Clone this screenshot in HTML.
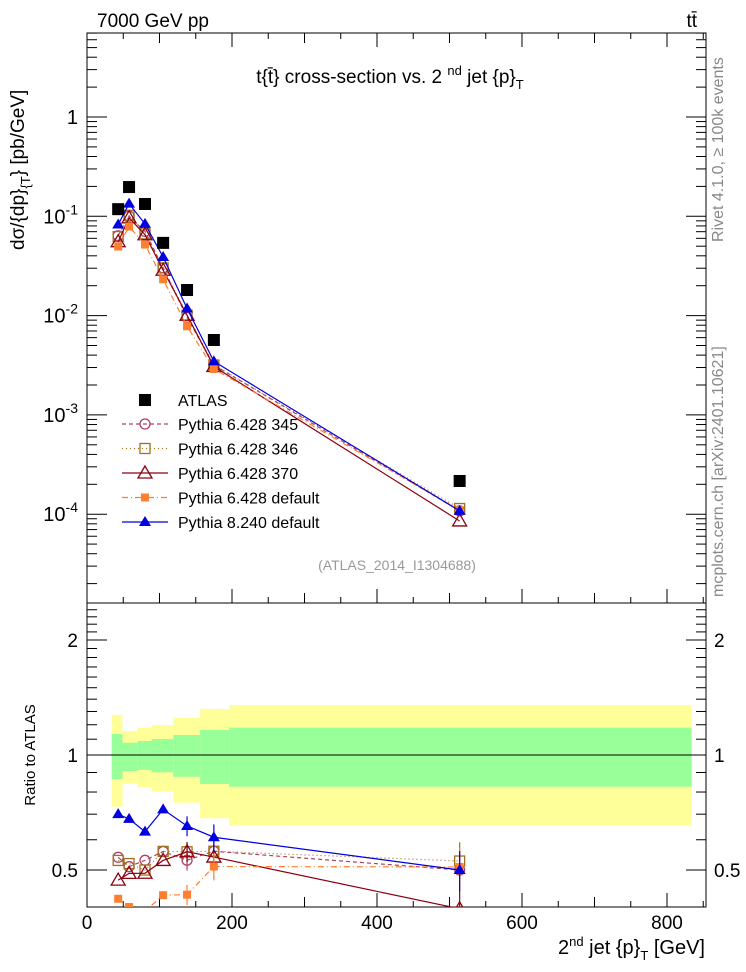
<!DOCTYPE html>
<html><head><meta charset="utf-8"><style>
body{margin:0;background:#fff;}
svg{display:block;font-family:"Liberation Sans",sans-serif;}
</style></head><body>
<svg id="c" width="746" height="972" viewBox="0 0 746 972">
<text x="97" y="27" font-size="19">7000 GeV pp</text>
<text x="697" y="27" font-size="19" text-anchor="end">tt̄</text>
<text x="390" y="83" font-size="19" text-anchor="middle">t{t̄} cross-section vs. 2 <tspan font-size="13" dy="-8">nd</tspan><tspan dy="8"> jet {p}</tspan><tspan font-size="13" dy="6">T</tspan></text>
<text transform="translate(24,250) rotate(-90)" font-size="19">dσ/{dp}<tspan font-size="13" dy="6">{T</tspan><tspan dy="-6">} [pb/GeV]</tspan></text>
<text transform="translate(723,242) rotate(-90)" font-size="16" fill="#888">Rivet 4.1.0, ≥ 100k events</text>
<text transform="translate(723,597) rotate(-90)" font-size="16" fill="#888">mcplots.cern.ch [arXiv:2401.10621]</text>
<text x="397" y="570" font-size="14" fill="#999" text-anchor="middle">(ATLAS_2014_I1304688)</text>
<text transform="translate(35,755) rotate(-90)" font-size="15" text-anchor="middle">Ratio to ATLAS</text>
<text x="705" y="954" font-size="20" text-anchor="end">2<tspan font-size="13" dy="-8">nd</tspan><tspan dy="8"> jet {p}</tspan><tspan font-size="13" dy="6">T</tspan><tspan dy="-6"> [GeV]</tspan></text>
<g id="g"></g>
</svg>
<script>
const xVals=[43,58,80,105,138,175,514];
const atlas=[0.118,0.197,0.133,0.054,0.0181,0.00568,0.000216];
const p345=[0.0637,0.1005,0.0705,0.0302,0.0096,0.00318,0.000108];
const p346=[0.0625,0.1024,0.0665,0.0302,0.0101,0.00318,0.000114];
const p370=[0.0555,0.0965,0.0652,0.0286,0.0101,0.00307,0.0000855];
const pdef=[0.0496,0.0788,0.0519,0.0232,0.0078,0.0029,0.00011];
const p8=[0.0826,0.134,0.0838,0.0389,0.0118,0.00346,0.000108];
const relErr=[0.01,0.01,0.01,0.01,0.06,0.08,0.12];
const binEdges=[34,49,70,89,119,156,196,834];
const yelHi=[1.273,1.156,1.179,1.198,1.252,1.320,1.352];
const yelLo=[0.732,0.843,0.823,0.802,0.750,0.683,0.653];
const grnHi=[1.135,1.077,1.088,1.101,1.128,1.163,1.179];
const grnLo=[0.865,0.908,0.914,0.901,0.877,0.840,0.826];
const xTicks=[0,200,400,600,800];
const yTicks=[1,0.1,0.01,0.001,0.0001];
const rTicks=[0.5,1,2];

const L=87,R=706,T=33,M=603,B=907;
const X=v=>L+v*0.725;
const Y=v=>117-Math.log10(v)*99.3;
const RY=v=>755-Math.log2(v)*115;
const g=document.getElementById('g');
const NS='http://www.w3.org/2000/svg';
function mk(t,a,p){const e=document.createElementNS(NS,t);for(const k in a)e.setAttribute(k,a[k]);(p||g).appendChild(e);return e;}

const bands=mk('g',{});


for(let i=0;i<yelHi.length;i++){
 const y=mk('rect',{x:X(binEdges[i]),y:RY(yelHi[i]),width:X(binEdges[i+1])-X(binEdges[i]),height:RY(yelLo[i])-RY(yelHi[i]),fill:'#ffff99'},bands);
 
 
 const gr=mk('rect',{x:X(binEdges[i]),y:RY(grnHi[i]),width:X(binEdges[i+1])-X(binEdges[i]),height:RY(grnLo[i])-RY(grnHi[i]),fill:'#99ff99'},bands);
 
 
}
const one=mk('line',{x1:L,x2:R,y1:RY(1),y2:RY(1),stroke:'#000','stroke-width':1});



const f1=mk('rect',{x:L,y:T,width:R-L,height:M-T,fill:'none',stroke:'#000'});


const f2=mk('rect',{x:L,y:M,width:R-L,height:B-M,fill:'none',stroke:'#000'});



for(let v=0;v<=850;v+=50){
 const len=v%200==0?14:(v%100==0?10:6);
 for(const yb of [M,B]) mk('line',{x1:X(v),x2:X(v),y1:yb,y2:yb-len,stroke:'#000'});
 mk('line',{x1:X(v),x2:X(v),y1:T,y2:T+len,stroke:'#000'});
}
xTicks.forEach(v=>{const t=mk('text',{x:X(v),y:929,'font-size':19,'text-anchor':'middle'});t.textContent=v;
 
 });
for(let d=-5;d<=0;d++){for(let m=1;m<10;m++){const v=m*Math.pow(10,d);const y=Y(v);if(y<T||y>M)continue;const len=m==1?20:10;
 mk('line',{x1:L,x2:L+len,y1:y,y2:y,stroke:'#000'});mk('line',{x1:R,x2:R-len,y1:y,y2:y,stroke:'#000'});}}
yTicks.forEach((v,i)=>{const t=mk('text',{x:78,y:Y(v)+7,'font-size':20,'text-anchor':'end'});
 
 
 if(v==1)t.textContent='1';else{const e=Math.round(Math.log10(v));t.innerHTML='10<tspan font-size="14" dy="-9">'+e+'</tspan>';}});
for(let v=0.4;v<=2.5;v+=0.1){const y=RY(v);if(y<M||y>B)continue;const maj=Math.abs(v-0.5)<1e-6||Math.abs(v-1)<1e-6||Math.abs(v-2)<1e-6;const len=maj?20:10;
 mk('line',{x1:L,x2:L+len,y1:y,y2:y,stroke:'#000'});mk('line',{x1:R,x2:R-len,y1:y,y2:y,stroke:'#000'});}
rTicks.forEach(v=>{for(const [x,a] of [[78,'end'],[714,'start']]){const t=mk('text',{x:x,y:RY(v)+7,'font-size':19,'text-anchor':a});t.textContent=v;
 
 }});

function marker(p,type,x,y,c){
 const s=6;
 if(type=='sq')mk('rect',{x:x-s,y:y-s,width:2*s,height:2*s,fill:c},p);
 else if(type=='osq')mk('rect',{x:x-5,y:y-5,width:10,height:10,fill:'none',stroke:c,'stroke-width':1.3},p);
 else if(type=='oc')mk('circle',{cx:x,cy:y,r:5,fill:'none',stroke:c,'stroke-width':1.3},p);
 else if(type=='otri')mk('polygon',{points:`${x},${y-7} ${x-7},${y+5} ${x+7},${y+5}`,fill:'none',stroke:c,'stroke-width':1.3},p);
 else if(type=='fsq')mk('rect',{x:x-4,y:y-4,width:8,height:8,fill:c},p);
 else if(type=='tri')mk('polygon',{points:`${x},${y-6} ${x-6},${y+4} ${x+6},${y+4}`,fill:c},p);
}
const clip=mk('clipPath',{id:'cr'});mk('rect',{x:L,y:M,width:R-L,height:B-M},clip);
const series=[
 {n:'pythia-6428-345',d:p345,c:'#b04060',m:'oc',dash:'4,3',lab:'Pythia 6.428 345'},
 {n:'pythia-6428-346',d:p346,c:'#a07020',m:'osq',dash:'1,3',lab:'Pythia 6.428 346'},
 {n:'pythia-6428-370',d:p370,c:'#8b0010',m:'otri',dash:'',lab:'Pythia 6.428 370'},
 {n:'pythia-6428-default',d:pdef,c:'#ff7f30',m:'fsq',dash:'6,3,1,3',lab:'Pythia 6.428 default'},
 {n:'pythia-8240-default',d:p8,c:'#0000e0',m:'tri',dash:'',lab:'Pythia 8.240 default'}];
series.forEach(s=>{
 const gm=mk('g',{});
 
 
 mk('polyline',{points:xVals.map((x,i)=>X(x)+','+Y(s.d[i])).join(' '),fill:'none',stroke:s.c,'stroke-width':1.2,'stroke-dasharray':s.dash},gm);
 xVals.forEach((x,i)=>marker(gm,s.m,X(x),Y(s.d[i]),s.c));
 const gr=mk('g',{'clip-path':'url(#cr)'});
 
 
 mk('polyline',{points:xVals.map((x,i)=>X(x)+','+RY(s.d[i]/atlas[i])).join(' '),fill:'none',stroke:s.c,'stroke-width':1.2,'stroke-dasharray':s.dash},gr);
 xVals.forEach((x,i)=>{const r=s.d[i]/atlas[i];
  if(relErr[i]>0.02)mk('line',{x1:X(x),x2:X(x),y1:RY(r*(1+relErr[i])),y2:RY(r*(1-relErr[i])),stroke:s.c,'stroke-width':1.2},gr);
  marker(gr,s.m,X(x),RY(r),s.c);});
});
const ga=mk('g',{});


xVals.forEach((x,i)=>marker(ga,'sq',X(x),Y(atlas[i]),'#000'));

const lg=mk('g',{});


marker(lg,'sq',145,400,'#000');
let t=mk('text',{x:178,y:406,'font-size':16},lg);t.textContent='ATLAS';
series.forEach((s,i)=>{const y=424+i*24.5;
 mk('line',{x1:122,x2:168,y1:y,y2:y,stroke:s.c,'stroke-width':1.2,'stroke-dasharray':s.dash},lg);
 marker(lg,s.m,145,y,s.c);
 const tt=mk('text',{x:178,y:y+6,'font-size':16},lg);tt.textContent=s.lab;
 
 });
</script>
</body></html>
